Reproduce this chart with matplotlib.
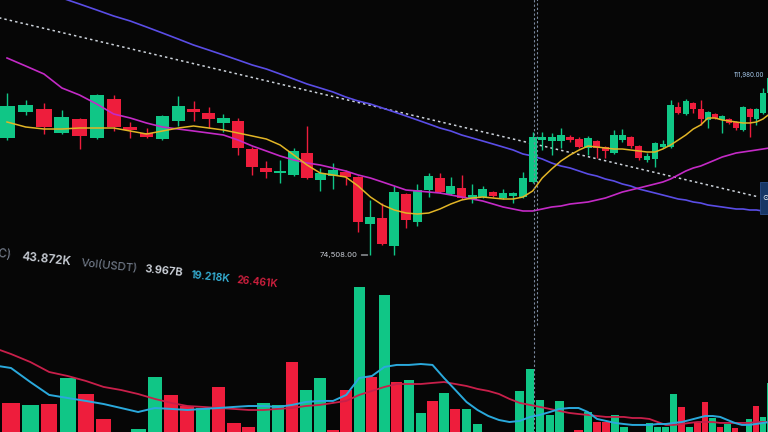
import matplotlib
matplotlib.use("Agg")
import matplotlib.pyplot as plt
import numpy as np

# daily candles, left to right as they appear on screen (USDT)
opens = [98844, 104252, 104876, 99884, 102796, 98844, 106956, 101132, 99884, 98636,
         102380, 104876, 104044, 101964, 102380, 96556, 92604, 91564, 91148, 95724,
         90108, 90940, 91772, 90732, 80956, 82204, 76380, 87196, 81372, 88028,
         90524, 87196, 88444, 86156, 86572, 87612, 86364, 86780, 86572, 89692,
         98428, 98220, 98220, 99052, 98636, 96764, 98220, 96972, 95724, 98428,
         99052, 97180, 94268, 94476, 96972, 96972, 105292, 103836, 106124, 104876,
         102588, 103836, 102588, 102796, 102172, 100508, 104876, 102796, 104044, 108204]
highs = [108204, 106748, 106124, 104668, 103004, 107996, 107788, 102172, 100924, 103628,
         107580, 106540, 105292, 103836, 103004, 96972, 94060, 94268, 96764, 101340,
         92604, 93644, 92188, 90940, 85948, 85324, 88860, 87404, 89276, 91564,
         91564, 90732, 91148, 89276, 88860, 87820, 88236, 87612, 91772, 100092,
         100092, 99884, 100924, 99468, 99052, 99260, 98428, 97180, 100508, 100716,
         99260, 97388, 95724, 98012, 98428, 106748, 106332, 106956, 106332, 106748,
         104460, 104044, 103628, 103004, 102380, 105500, 105084, 105084, 109244, 111980]
lows = [98428, 103628, 99676, 99676, 96556, 98636, 100300, 98844, 98844, 98428,
        101340, 102380, 100924, 100092, 95308, 91148, 90524, 89484, 90940, 90316,
        87820, 88236, 89068, 79292, 74508, 76588, 74600, 80124, 80540, 86572,
        87404, 86988, 86156, 85324, 86364, 86572, 86156, 85324, 86364, 89484,
        96348, 95308, 96764, 98012, 96764, 95308, 94684, 94684, 95516, 98012,
        96764, 94268, 93852, 92812, 96764, 96764, 103836, 103628, 104044, 101548,
        100924, 102796, 99884, 101756, 100508, 100300, 99052, 101548, 103836, 107996]
closes = [105500, 105708, 101132, 103212, 99260, 107788, 101132, 100508, 99052, 103420,
          105500, 104252, 102796, 103004, 96764, 92812, 91772, 91980, 96140, 90524,
          91564, 92188, 90732, 81372, 82412, 76796, 87612, 81788, 88028, 90940,
          87612, 88860, 86364, 86988, 88236, 86780, 87404, 87404, 90524, 99052,
          99052, 99052, 99468, 98428, 96972, 98844, 96764, 96140, 99468, 99468,
          97180, 94684, 95100, 97804, 97596, 105708, 104044, 106540, 104876, 102796,
          104252, 103004, 103420, 101964, 100924, 105292, 103212, 104876, 108204, 111324]

# moving averages of price, one value per candle
ma7 = [102172, 101132, 100716, 100716, 100924, 100924, 100924, 100300, 99676, 100300,
       100924, 101340, 100924, 100508, 99884, 99260, 98636, 97388, 95308, 93228,
       91564, 91148, 90732, 88860, 86572, 84908, 83868, 83244, 83036, 83244,
       84076, 85116, 85948, 86364, 86572, 86364, 86156, 86156, 86572, 87820,
       90524, 92396, 94060, 95308, 96348, 97180, 96972, 96764, 96556, 96556,
       96348, 96140, 95932, 95932, 96556, 97388, 98428, 99468, 100716, 101548,
       103004, 103004, 102588, 102380, 102172, 101964, 101964, 102172, 102796, 103836]
ma25 = [115484, 113820, 112156, 109244, 107788, 105916, 103836, 103004, 101964, 101132,
        100716, 100300, 99884, 99468, 98428, 97180, 96140, 95100, 94268, 93644,
        93228, 92604, 91980, 91148, 90524, 89692, 88860, 88028, 87820, 87612,
        87404, 86988, 86572, 86156, 85740, 85116, 84492, 84076, 83660, 83660,
        84076, 84492, 84700, 85116, 85324, 85532, 85948, 86364, 86988, 87612,
        88028, 88444, 88860, 89276, 89692, 90316, 91148, 91980, 92604, 93020,
        93644, 94268, 94892, 95308, 95724, 95932, 96140, 96348, 96556, 96764]
ma99 = [132124, 130668, 129420, 127964, 126716, 125468, 124220, 123180, 121932, 120684,
        119436, 118188, 117148, 116108, 115068, 114028, 113196, 112156, 111116, 110076,
        109244, 108412, 107372, 106540, 105916, 105084, 104252, 103420, 102588, 101756,
        100924, 100300, 99468, 98844, 98220, 97596, 96972, 96348, 95516, 95100,
        94476, 93644, 93020, 92604, 91980, 91356, 90940, 90316, 89900, 89276,
        88860, 88236, 87820, 87404, 86988, 86572, 86156, 85948, 85532, 85324,
        84908, 84700, 84492, 84284, 84076, 84076, 83868, 83868, 83660]

# drawn trend line (dotted), candle index / price at its two ends
trend_idx = [-0.5, 67]
trend_price = [123930, 86700]

# volume, thousand BTC, one value per candle
volumes = [34.0, 30.0, 33.8, 32.3, 33.0, 52.5, 40.5, 21.8, 9.8, 14.3,
           53.3, 39.8, 31.5, 30.0, 45.8, 18.8, 15.8, 33.8, 32.3, 64.5,
           43.5, 52.5, 13.5, 43.5, 120.8, 53.3, 114.8, 49.5, 51.0, 26.3,
           35.3, 41.3, 29.3, 29.3, 18.0, 9.0, 9.0, 10.5, 42.8, 59.3,
           36.0, 24.8, 35.3, 10.5, 13.5, 27.0, 19.5, 19.5, 24.8, 15.8,
           9.0, 9.8, 18.8, 15.8, 15.8, 40.5, 30.8, 15.8, 18.8, 34.5,
           22.5, 15.8, 18.0, 15.0, 10.5, 21.8, 31.5, 23.3, 48.8, 40.0]
# volume moving averages, starting at candle 1
vol_ma_fast = [62.3, 60.0, 49.5, 39.8, 37.5, 35.3, 33.0, 30.0, 27.0, 30.0,
               29.3, 28.5, 29.3, 30.0, 30.8, 31.5, 31.5, 30.8, 32.3, 34.5,
               35.3, 35.3, 39.8, 52.5, 54.0, 60.8, 62.3, 62.3, 63.0, 62.3,
               52.5, 43.5, 34.5, 28.5, 24.0, 21.0, 19.5, 20.3, 23.3, 24.8,
               27.0, 29.3, 30.0, 30.0, 27.0, 21.8, 20.3, 18.8, 18.0, 17.3,
               17.3, 17.3, 18.0, 18.0, 18.8, 19.5, 21.0, 22.5, 24.0, 24.0,
               23.3, 21.0, 18.8, 17.3, 17.3, 18.0, 18.8, 19.5]
vol_ma_slow = [75.8, 70.5, 64.5, 57.0, 54.0, 50.3, 45.8, 43.5, 40.5, 36.8,
               33.8, 31.5, 30.8, 30.0, 29.3, 28.5, 28.5, 29.3, 30.0, 31.5,
               32.3, 33.8, 35.3, 39.8, 42.8, 45.8, 48.0, 48.0, 48.0, 48.8,
               49.5, 48.0, 46.5, 44.3, 42.8, 40.5, 36.8, 33.8, 32.3, 30.8,
               29.3, 27.8, 26.3, 25.5, 24.8, 24.0, 23.3, 23.3, 23.3, 22.5,
               22.5, 21.8, 19.5, 17.3, 17.3, 18.0, 18.8, 19.5, 19.5, 19.5,
               18.8, 18.8, 18.8, 18.8, 18.8, 19.5, 19.5, 19.5]

low_idx, low_text = 24, "74,508.00"
high_idx, high_text = 69, "111,980.00"
cursor_idx = 39.4

legend_items = [("Vol(BTC)", "#7f8898"), ("43.872K", "#c9ced6"), ("Vol(USDT)", "#7d8797"),
                ("3.967B", "#d5dae2"), ("19.218K", "#36b3d9"), ("26.461K", "#d3203f")]

GREEN = "#10c686"
RED = "#ee1d3c"
BG = "#060606"


def persp(c, shift):
    # photo is taken at an angle: candles get narrower to the right
    def fwd(x):
        x = np.asarray(x, dtype=float) - shift
        with np.errstate(divide="ignore", invalid="ignore"):
            return x / (1 + c * x)

    def inv(g):
        g = np.asarray(g, dtype=float)
        with np.errstate(divide="ignore", invalid="ignore"):
            return g / (1 - c * g) + shift
    return fwd, inv


fig = plt.figure(figsize=(7.68, 4.32), dpi=100, facecolor=BG)

ax = fig.add_axes([0, 0, 1, 1])
ax.set_xscale("function", functions=persp(0.010252, 0))
ax.axis("off")

o = np.array(opens)
c = np.array(closes)
idx = np.arange(len(o))
up = c >= o
cols = np.where(up, GREEN, RED)

ax.plot(trend_idx, trend_price, color="#cdd3db", lw=1.1, linestyle=(0, (1.6, 2.0)), zorder=1)
ax.plot(np.arange(len(ma99)), ma99, color="#5a4de6", lw=1.2, zorder=1)
ax.vlines(idx, lows, highs, colors=cols, lw=1.0, zorder=2)
ax.bar(idx, np.maximum(np.abs(c - o), 200), bottom=np.minimum(o, c), width=0.84,
       color=cols, linewidth=0, zorder=3)
ax.plot(idx, ma25, color="#c42ac6", lw=1.2, zorder=4)
ax.plot(idx, ma7, color="#e2b526", lw=1.1, zorder=5)
ax.vlines(cursor_idx, 60000, 130000, colors="#7c8aa0", lw=0.8, linestyles=(0, (2, 2)), zorder=0)

ax.annotate(low_text, xy=(low_idx, lows[low_idx]), xytext=(-9.5, 0), textcoords="offset points",
            ha="right", va="center", fontsize=5.5, color="#c8ccd4", family=["Inter", "DejaVu Sans"],
            arrowprops=dict(arrowstyle="-", color="#c8ccd4", lw=0.8, shrinkA=1, shrinkB=2))
ax.annotate(high_text, xy=(high_idx, highs[high_idx]), xytext=(-4, 0), textcoords="offset points",
            ha="right", va="center", fontsize=4.5, color="#a6c8ea", family=["Inter", "DejaVu Sans"],
            annotation_clip=False)
ax.annotate("\n\u2299\n", xy=(trend_idx[1], trend_price[1]), xytext=(4, -1), textcoords="offset points",
            ha="left", va="center", fontsize=5.5, color="white", linespacing=1.0,
            bbox=dict(boxstyle="square,pad=0.3", fc="#183766", ec="#2b4f8c", lw=0.6))

ax.set_xlim(-0.37, 68.77)
ax.set_ylim(37692, 127548)

# volume pane, seen from a slightly different angle
axv = fig.add_axes([0, 0, 1, 1])
axv.set_xscale("function", functions=persp(0.010549, 2))
axv.axis("off")
axv.patch.set_alpha(0)
axv.vlines(cursor_idx, 0, 340, colors="#7c8aa0", lw=0.8, linestyles=(0, (2, 2)), zorder=0)
axv.bar(idx, volumes, width=0.88, color=cols, linewidth=0, zorder=2)
axv.plot(np.arange(1, 1 + len(vol_ma_slow)), vol_ma_slow, color="#c81f4a", lw=1.3, zorder=3)
axv.plot(np.arange(1, 1 + len(vol_ma_fast)), vol_ma_fast, color="#2aa9dc", lw=1.4, zorder=4)
axv.set_xlim(1.44, 67.74)
axv.set_ylim(12, 336)

# legend row of the volume pane, slightly tilted and shrinking to the right in the photo
xpos = [12, 22, 81, 145, 191, 237]
ypos = [255, 257, 263, 269, 275, 280]
sizes = [8.5, 8.5, 8.2, 8.0, 7.6, 7.4]
for (txt, col), px, py, fs in zip(legend_items, xpos, ypos, sizes):
    ha = "right" if txt == "Vol(BTC)" else "left"
    weight = "normal" if txt.startswith("Vol") else "semibold"
    fig.text(px / 768, 1 - py / 432, txt, color=col, fontsize=fs, ha=ha, va="center",
             rotation=-6, rotation_mode="anchor", weight=weight, family=["Inter", "DejaVu Sans"])

fig.savefig("out.png", dpi=100, facecolor=BG)
